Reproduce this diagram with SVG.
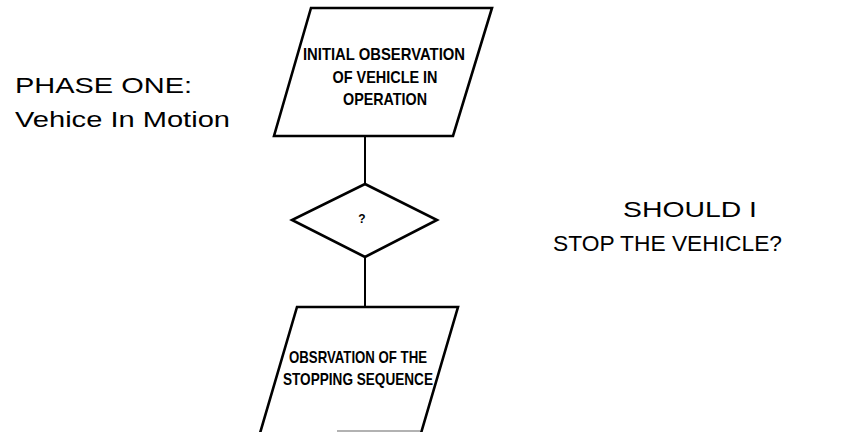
<svg xmlns="http://www.w3.org/2000/svg" width="851" height="432" viewBox="0 0 851 432">
<style>
.shape{fill:#fff;stroke:#000;stroke-width:2.6;stroke-linejoin:miter}
.conn{stroke:#000;stroke-width:2;fill:none}
.box{font-family:"Liberation Sans",Arial,sans-serif;font-weight:bold;font-size:17px;fill:#000;text-anchor:middle}
.lbl{font-family:"Liberation Sans",Arial,sans-serif;font-size:22px;fill:#000}
</style>
<rect width="851" height="432" fill="#fff"/>
<g id="connectors">
<line class="conn" x1="365" y1="136" x2="365" y2="184"/>
<line class="conn" x1="365" y1="257" x2="365" y2="307"/>
</g>
<g id="node-initial">
<polygon class="shape" points="311,8 492,8 453,136 274,136"/>
<text class="box" x="384" y="60" textLength="162" lengthAdjust="spacingAndGlyphs">INITIAL OBSERVATION</text>
<text class="box" x="385" y="83" textLength="105" lengthAdjust="spacingAndGlyphs">OF VEHICLE IN</text>
<text class="box" x="385" y="105" textLength="84" lengthAdjust="spacingAndGlyphs">OPERATION</text>
</g>
<g id="node-decision">
<polygon class="shape" points="365,184 437,220 365,257 292,220"/>
<text class="box" x="362" y="223" style="font-size:12px">?</text>
</g>
<g id="node-stopping">
<polygon class="shape" points="297,307 458,307 419,440 258,440"/>
<line x1="337" y1="431" x2="420" y2="431" stroke="#999" stroke-width="1.5"/>
<text class="box" x="358" y="363" textLength="138" lengthAdjust="spacingAndGlyphs">OBSRVATION OF THE</text>
<text class="box" x="358" y="385" textLength="150" lengthAdjust="spacingAndGlyphs">STOPPING SEQUENCE</text>
</g>
<g id="labels">
<text class="lbl" x="15" y="93" textLength="177" lengthAdjust="spacingAndGlyphs">PHASE ONE:</text>
<text class="lbl" x="15" y="127" textLength="215" lengthAdjust="spacingAndGlyphs">Vehice In Motion</text>
<text class="lbl" x="623" y="217" textLength="134" lengthAdjust="spacingAndGlyphs">SHOULD I</text>
<text class="lbl" x="553" y="251" textLength="229" lengthAdjust="spacingAndGlyphs">STOP THE VEHICLE?</text>
</g>
</svg>
